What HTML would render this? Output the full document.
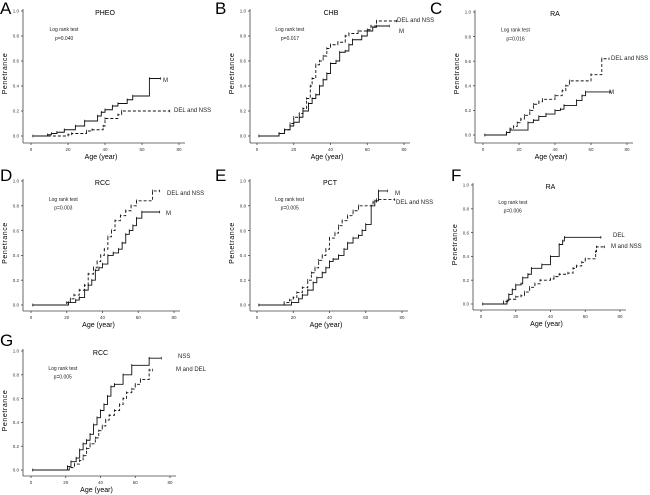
<!DOCTYPE html>
<html><head><meta charset="utf-8"><style>
body{margin:0;background:#fff;}
svg{display:block;font-family:"Liberation Sans",sans-serif;}
</style></head><body>
<svg id="fig" width="650" height="495"></svg>
<script>
const ticksX=[0,20,40,60,80];
const ticksY=[0,0.2,0.4,0.6,0.8,1.0];
const tickLabelsY=["0.0","0.2","0.4","0.6","0.8","1.0"];
const panelLetters=["A","B","C","D","E","F","G"];
const panelTitles=["PHEO","CHB","RA","RCC","PCT","RA","RCC"];
const pValues=["p=0.040","p=0.017","p=0.016","p=0.003","p=0.005","p=0.006","p=0.005"];
const seriesNames=[["M","DEL and NSS"],["M","DEL and NSS"],["M","DEL and NSS"],["M","DEL and NSS"],["M","DEL and NSS"],["DEL","M and NSS"],["NSS","M and DEL"]];
const solidA=[[1,0],[9,0.01],[11,0.02],[14,0.03],[18,0.05],[24,0.08],[29,0.12],[36,0.16],[38,0.19],[40,0.21],[44,0.24],[47,0.26],[52,0.29],[55,0.32],[64,0.46],[70,0.46]];
const dashA=[[1,0],[20,0.01],[22,0.02],[30,0.04],[33,0.05],[39,0.08],[40,0.14],[47,0.17],[49,0.2],[75,0.2]];
const solidB=[[1,0],[12,0.02],[15,0.05],[18,0.08],[20,0.11],[23,0.15],[25,0.2],[28,0.26],[30,0.3],[32,0.33],[34,0.4],[36,0.45],[38,0.5],[40,0.58],[43,0.6],[45,0.67],[48,0.68],[50,0.73],[52,0.77],[57,0.8],[60,0.84],[63,0.87],[65,0.88],[72,0.88]];
const dashB=[[1,0],[12,0.02],[15,0.05],[18,0.1],[20,0.15],[23,0.18],[25,0.22],[27,0.3],[29,0.4],[30,0.46],[32,0.57],[34,0.6],[36,0.64],[38,0.7],[40,0.73],[44,0.75],[48,0.8],[50,0.82],[55,0.84],[60,0.85],[62,0.88],[65,0.92],[76,0.92]];
const solidC=[[1,0],[13,0.02],[15,0.04],[25,0.1],[28,0.12],[31,0.15],[35,0.17],[40,0.2],[43,0.21],[45,0.24],[52,0.28],[55,0.32],[57,0.35],[71,0.35]];
const dashC=[[1,0],[13,0.02],[15,0.05],[17,0.07],[19,0.1],[21,0.13],[23,0.16],[26,0.2],[28,0.25],[31,0.27],[33,0.29],[40,0.32],[44,0.36],[46,0.4],[48,0.44],[60,0.49],[66,0.62],[70,0.62]];
const solidD=[[1,0],[21,0.02],[25,0.04],[27,0.06],[30,0.12],[32,0.16],[34,0.2],[36,0.28],[38,0.3],[40,0.33],[43,0.4],[46,0.42],[49,0.45],[51,0.5],[53,0.57],[55,0.6],[57,0.64],[59,0.7],[62,0.75],[72,0.75]];
const dashD=[[1,0],[20,0.02],[22,0.05],[24,0.08],[27,0.12],[30,0.16],[32,0.25],[35,0.3],[37,0.35],[39,0.4],[41,0.45],[43,0.55],[45,0.6],[47,0.68],[50,0.72],[53,0.76],[56,0.8],[59,0.84],[68,0.92],[72,0.92]];
const solidE=[[1,0],[19,0.02],[23,0.05],[25,0.08],[28,0.12],[31,0.18],[33,0.22],[36,0.26],[38,0.3],[40,0.35],[42,0.37],[45,0.4],[48,0.45],[50,0.5],[53,0.54],[56,0.56],[58,0.6],[60,0.65],[63,0.8],[65,0.84],[67,0.92],[72,0.92]];
const dashE=[[1,0],[15,0.02],[18,0.04],[20,0.06],[22,0.1],[25,0.14],[28,0.2],[30,0.26],[32,0.3],[34,0.36],[36,0.4],[38,0.45],[40,0.54],[43,0.58],[45,0.64],[47,0.68],[50,0.72],[53,0.76],[56,0.8],[64,0.83],[66,0.85],[76,0.85]];
const solidF=[[1,0],[15,0.03],[16,0.08],[18,0.12],[20,0.16],[23,0.17],[24,0.22],[27,0.25],[29,0.3],[35,0.33],[40,0.4],[45,0.5],[47,0.53],[48,0.56],[69,0.56]];
const dashF=[[1,0],[13,0.02],[16,0.04],[20,0.06],[23,0.07],[25,0.1],[28,0.14],[31,0.17],[34,0.2],[40,0.21],[42,0.23],[45,0.25],[50,0.26],[53,0.3],[55,0.32],[58,0.35],[60,0.38],[66,0.44],[66.5,0.48],[71,0.48]];
const solidG=[[1,0],[21,0.03],[23,0.07],[26,0.1],[28,0.17],[30,0.22],[32,0.25],[34,0.3],[36,0.38],[38,0.44],[40,0.5],[42,0.55],[44,0.62],[46,0.7],[48,0.72],[53,0.8],[58,0.88],[68,0.94],[75,0.94]];
const dashG=[[1,0],[22,0.02],[25,0.05],[28,0.08],[30,0.12],[32,0.18],[34,0.22],[37,0.27],[39,0.33],[41,0.37],[43,0.42],[45,0.46],[48,0.5],[51,0.55],[53,0.6],[55,0.65],[58,0.68],[60,0.72],[63,0.76],[68,0.84],[70,0.84]];
const solids=[solidA,solidB,solidC,solidD,solidE,solidF,solidG];
const dashes=[dashA,dashB,dashC,dashD,dashE,dashF,dashG];
const geo=[
 {ax:23,y1:11,y0:136,x0:31,x80:179,bot:143,lx:0,ly:14,l1:[163,82],l2:[174,112]},
 {ax:250,y1:11,y0:136,x0:257,x80:404,bot:143,lx:215,ly:14,l1:[399,33],l2:[397,22]},
 {ax:475,y1:12,y0:135,x0:483,x80:627,bot:143,lx:430,ly:14,l1:[609,94],l2:[611,60]},
 {ax:23,y1:181,y0:305,x0:31,x80:174,bot:311,lx:0,ly:181,l1:[166,215],l2:[167,195]},
 {ax:250,y1:181,y0:305,x0:257,x80:402,bot:311,lx:215,ly:181,l1:[395,195],l2:[396,204]},
 {ax:473,y1:185,y0:304,x0:481,x80:620,bot:310,lx:451,ly:181,l1:[613,237],l2:[611,248]},
 {ax:23,y1:351,y0:470,x0:31,x80:170,bot:476,lx:0,ly:346,l1:[178,358],l2:[176,371]}
];
const NS="http://www.w3.org/2000/svg";
const svg=document.getElementById('fig');
function mk(tag,attrs,parent,txt){const e=document.createElementNS(NS,tag);for(const k in attrs)e.setAttribute(k,attrs[k]);if(txt!==undefined)e.textContent=txt;parent.appendChild(e);return e;}
geo.forEach((g,i)=>{
 const grp=mk('g',{},svg);
 
 
 const sx=v=>g.x0+(g.x80-g.x0)*v/80;
 const sy=v=>g.y0-(g.y0-g.y1)*v;
 const letter=mk('text',{x:g.lx,y:g.ly,'font-size':17,fill:'#000'},grp,panelLetters[i]);
 
 
 const t=mk('text',{x:(g.ax+g.x80)/2+4,y:g.y1+4,'font-size':7,'text-anchor':'middle'},grp,panelTitles[i]);
 
 
 const ya=mk('line',{x1:g.ax,y1:g.y1-2,x2:g.ax,y2:g.bot,stroke:'#444','stroke-width':0.8},grp);
 
 
 const xa=mk('line',{x1:g.ax,y1:g.bot,x2:g.x80+6,y2:g.bot,stroke:'#444','stroke-width':0.8},grp);
 
 
 ticksY.forEach((v,j)=>{
  mk('line',{x1:g.ax-2,y1:sy(v),x2:g.ax,y2:sy(v),stroke:'#444','stroke-width':0.8},grp);
  const tl=mk('text',{x:g.ax-4,y:sy(v)+1.7,'font-size':4.5,'text-anchor':'end',fill:'#333'},grp,tickLabelsY[j]);
  
  
 });
 ticksX.forEach(v=>{
  mk('line',{x1:sx(v),y1:g.bot,x2:sx(v),y2:g.bot+2,stroke:'#444','stroke-width':0.8},grp);
  const tl=mk('text',{x:sx(v),y:g.bot+8,'font-size':4.5,'text-anchor':'middle',fill:'#333'},grp,String(v));
  
  
 });
 const xt=mk('text',{x:(g.ax+g.x80)/2,y:g.bot+16,'font-size':7,'text-anchor':'middle'},grp,'Age (year)');
 
 
 const ym=(g.y0+g.y1)/2, yx=g.ax-16;
 const yt=mk('text',{x:yx,y:ym,'font-size':7,'text-anchor':'middle','letter-spacing':0.6,transform:`rotate(-90 ${yx} ${ym})`},grp,'Penetrance');
 
 
 const lr=mk('text',{x:sx(10),y:sy(0.84),'font-size':5,fill:'#222'},grp,'Log rank test');
 
 
 const pv=mk('text',{x:sx(13),y:sy(0.77),'font-size':5,fill:'#222'},grp,pValues[i]);
 
 
 [[solids[i],null],[dashes[i],'3,2']].forEach(([pts,dash],k)=>{
  let d='M'+sx(pts[0][0])+','+sy(pts[0][1]);
  for(let m=1;m<pts.length;m++){d+=' H'+sx(pts[m][0])+' V'+sy(pts[m][1]);}
  const a={d:d,fill:'none',stroke:'#111','stroke-width':0.9};
  if(dash)a['stroke-dasharray']=dash;
  const p=mk('path',a,grp);
  
  
  pts.forEach(q=>{
   const c=mk('line',{x1:sx(q[0]),y1:sy(q[1])-1.3,x2:sx(q[0]),y2:sy(q[1])+1.3,stroke:'#111','stroke-width':0.7},grp);
   
   
  });
 });
 const s1=mk('text',{x:g.l1[0],y:g.l1[1],'font-size':6,fill:'#222'},grp,seriesNames[i][0]);
 
 
 const s2=mk('text',{x:g.l2[0],y:g.l2[1],'font-size':6,fill:'#222'},grp,seriesNames[i][1]);
 
 
});
</script>
</body></html>
